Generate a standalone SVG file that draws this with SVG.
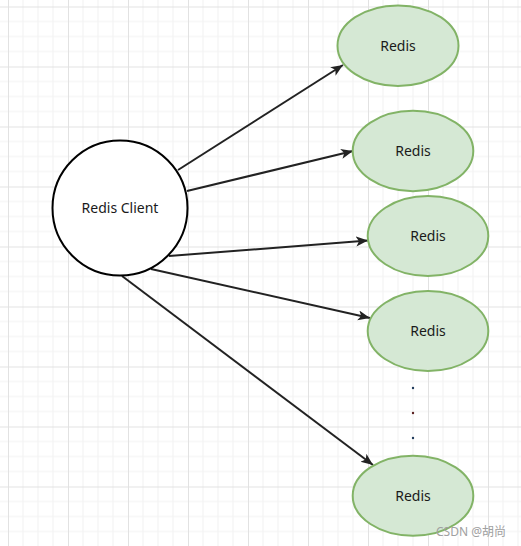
<svg xmlns="http://www.w3.org/2000/svg" width="521" height="546" viewBox="0 0 521 546">
<defs>
<pattern id="grid" patternUnits="userSpaceOnUse" x="8" y="6.5" width="60" height="60">
<path d="M15,0V60M30,0V60M45,0V60M0,15H60M0,30H60M0,45H60" stroke="#f1f1f1" stroke-width="1" fill="none"/>
<path d="M0.5,0V60M0,0.5H60" stroke="#e2e2e2" stroke-width="1" fill="none"/>
</pattern>
<marker id="arr" markerUnits="userSpaceOnUse" markerWidth="14" markerHeight="12" refX="12" refY="5" orient="auto" viewBox="0 0 14 12">
<path d="M0,0 L12,5 L0,10 L3,5 Z" fill="#222"/>
</marker>
<style>
.redis{fill:#d5e8d4;stroke:#82b366;stroke-width:2}
.lbl{font-family:"Noto Sans","Liberation Sans",sans-serif;font-size:14px;fill:#1a1a1a;text-anchor:middle}
.edge{stroke:#222;stroke-width:2;fill:none;marker-end:url(#arr)}
</style>
</defs>
<rect width="521" height="546" fill="#fff"/>
<rect width="521" height="546" fill="url(#grid)"/>
<g id="connectors">
<line class="edge" x1="178" y1="170" x2="343" y2="65"/>
<line class="edge" x1="187" y1="191" x2="353" y2="151"/>
<line class="edge" x1="169" y1="256" x2="368" y2="240.5"/>
<line class="edge" x1="151" y1="269" x2="370" y2="318"/>
<line class="edge" x1="122" y1="276" x2="373" y2="465"/>
</g>
<g id="client">
<circle cx="120" cy="208" r="67.5" fill="#fff" stroke="#000" stroke-width="2"/>
<text class="lbl" x="120" y="213">Redis Client</text>
</g>
<g id="redis1">
<ellipse class="redis" cx="398" cy="45.7" rx="60.5" ry="40.3"/>
<text class="lbl" x="398" y="50.7">Redis</text>
</g>
<g id="redis2">
<ellipse class="redis" cx="413" cy="151" rx="60.3" ry="40.2"/>
<text class="lbl" x="413" y="156">Redis</text>
</g>
<g id="redis3">
<ellipse class="redis" cx="428" cy="236" rx="60.3" ry="40"/>
<text class="lbl" x="428" y="241">Redis</text>
</g>
<g id="redis4">
<ellipse class="redis" cx="428" cy="331" rx="60.3" ry="40"/>
<text class="lbl" x="428" y="336">Redis</text>
</g>
<g id="redis5">
<ellipse class="redis" cx="413" cy="495.7" rx="60.3" ry="40"/>
<text class="lbl" x="413" y="500.7">Redis</text>
</g>
<g id="dots">
<circle cx="413" cy="388" r="1.2" fill="#1f3a5a"/>
<circle cx="413" cy="413" r="1.2" fill="#5a1f1f"/>
<circle cx="413" cy="438" r="1.2" fill="#1f3a5a"/>
</g>
<text x="506" y="536" font-family="Noto Sans,Noto Sans CJK SC,sans-serif" font-size="12" fill="#a0a0a0" text-anchor="end">CSDN @胡尚</text>
</svg>
